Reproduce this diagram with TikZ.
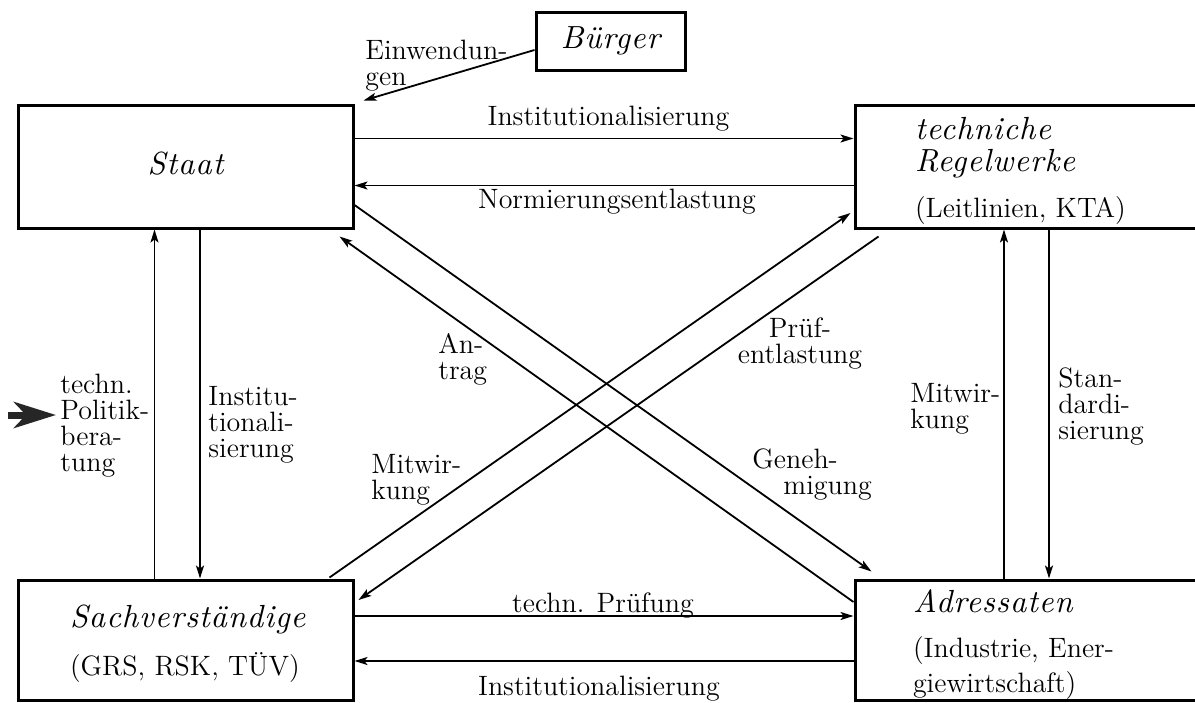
\documentclass[tikz,border=0pt]{standalone}
\usepackage{fontspec}
\usepackage{tikz}
\usetikzlibrary{positioning,arrows.meta}
\newfontface\spitfont{lmroman10-italic.otf}[LetterSpace=3]
\newcommand{\spit}[1]{{\fontsize{16}{13}\spitfont #1}}
\newcommand{\hebe}[1]{\rule{0pt}{#1}}
\tikzset{
  block/.style={rectangle,draw=black,line width=1.5pt,inner sep=0pt,minimum width=167.5pt,minimum height=61.5pt},
  wideblock/.style={block,minimum width=172.5pt},
  lbl/.style={inner sep=0pt,align=left,anchor=north west},
  clbl/.style={inner sep=0pt,anchor=base},
  flowedge/.style={-{Stealth[length=6.5pt,width=4pt,inset=1.5pt]},line width=0.9pt},
  bigedge/.style={-{Stealth[length=21pt,width=13pt,inset=6pt]},line width=3.5pt,draw=black!85}
}
\begin{document}
\begin{tikzpicture}[x=0.5pt,y=-0.5pt,font=\fontsize{14}{13}\selectfont]
  \useasboundingbox (0,0) rectangle (1195,702);
  \node[block] (staat) at (185.5,166.5) {\rule[-3pt]{0pt}{3pt}\spit{Staat}};
  \node[wideblock,right=249.5pt of staat,text width=112.5pt,align=left] (regel) {\hebe{15.5pt}\spit{techniche}\\[3pt]\spit{Regelwerke}\\[8.5pt](Leitlinien,~KTA)};
  \node[block,minimum height=60pt,below=174.5pt of staat,text width=115.5pt,align=left] (sachv) {\hebe{15pt}\spit{Sachverständige}\\[8.5pt](GRS,~RSK,~TÜV)};
  \node[wideblock,minimum height=60pt,below=174.5pt of regel,text width=114.5pt,align=left] (adress) {\hebe{16pt}\spit{Adressaten}\\[9.5pt](Industrie,~Ener-\\[2pt]giewirtschaft)};
  \node[block,minimum width=74.5pt,minimum height=29pt] (buerger) at (610.5,41) {\spit{Bürger}};

  \node[lbl] (einw) at (365,39.5) {Einwendun-\\gen};
  \node[clbl] (insttop) at (608.5,125) {Institutionalisierung};
  \node[clbl] (normtop) at (617,208) {Normierungsentlastung};
  \node[lbl] (beratung) at (60,373.5) {techn.\\Politik-\\bera-\\tung};
  \node[lbl] (instleft) at (208,385.5) {Institu-\\tionali-\\sierung};
  \node[lbl] (mitwleft) at (371,453.5) {Mitwir-\\kung};
  \node[lbl] (antrag) at (438,333.5) {An-\\trag};
  \node[lbl,align=center,anchor=north] (pruef) at (800,317.5) {Prüf-\\entlastung};
  \node[lbl] (geneh) at (752,448.5) {Geneh-\\\hspace*{15.5pt}migung};
  \node[lbl] (mitwright) at (910,382.5) {Mitwir-\\kung};
  \node[lbl] (stand) at (1058,367.5) {Stan-\\dardi-\\sierung};
  \node[clbl] (pruefung) at (603,612) {techn. Prüfung};
  \node[clbl] (instbot) at (599,695) {Institutionalisierung};
  \coordinate (pbstart) at (8,415);

  \draw[flowedge] ([yshift=-4.5pt]buerger.west) -- ([xshift=4.5pt,yshift=1.5pt]staat.north east);
  \draw[flowedge] ([yshift=14pt]staat.east) -- ([yshift=14pt]regel.west);
  \draw[flowedge] ([yshift=-9.5pt]regel.west) -- ([yshift=-9.5pt]staat.east);
  \draw[flowedge] ([xshift=-15.5pt]sachv.north) -- ([xshift=-15.5pt]staat.south);
  \draw[flowedge] ([xshift=7.25pt]staat.south) -- ([xshift=7.25pt]sachv.north);
  \draw[flowedge] ([xshift=-11.75pt]adress.north) -- ([xshift=-11.75pt]regel.south);
  \draw[flowedge] ([xshift=10.75pt]regel.south) -- ([xshift=10.75pt]adress.north);
  \draw[flowedge] ([yshift=12pt]sachv.east) -- ([yshift=12pt]adress.west);
  \draw[flowedge] ([yshift=-10.5pt]adress.west) -- ([yshift=-10.5pt]sachv.east);
  \draw[flowedge] ([yshift=-19.25pt]staat.east) -- ([xshift=9pt,yshift=3.5pt]adress.north west);
  \draw[flowedge] ([yshift=19pt]adress.west) -- ([xshift=-7.5pt,yshift=-3.5pt]staat.south east);
  \draw[flowedge] ([xshift=-12.5pt,yshift=0.5pt]sachv.north east) -- ([xshift=-1.5pt,yshift=-23.25pt]regel.west);
  \draw[flowedge] ([xshift=12.5pt,yshift=-3.5pt]regel.south west) -- ([xshift=2pt,yshift=20pt]sachv.east);
  \draw[bigedge] (pbstart) -- ([xshift=-2pt]beratung.west |- pbstart);
\end{tikzpicture}
\end{document}
